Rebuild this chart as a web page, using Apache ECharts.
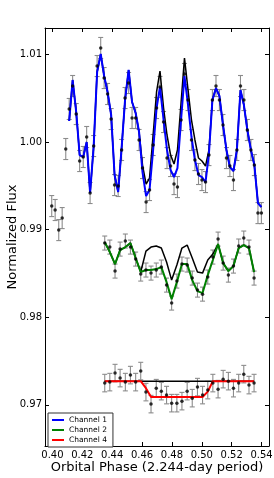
<!DOCTYPE html>
<html><head><meta charset="utf-8">
<script src="https://cdn.jsdelivr.net/npm/echarts@6/dist/echarts.min.js"></script>
<style>html,body{margin:0;padding:0;background:#fff}#c{width:274px;height:478px}</style>
</head><body><div id="c"></div>
<script>
const xTicks = [0.40, 0.42, 0.44, 0.46, 0.48, 0.50, 0.52, 0.54];
const yTicks = [0.97, 0.98, 0.99, 1.00, 1.01];

// Channel 1
const phase1 = [0.3995,0.4018,0.4042,0.4065,0.4089,0.4112,0.4135,0.4159,0.4182,0.4206,0.4229,0.4252,0.4276,0.4299,0.4323,0.4346,0.4369,0.4393,0.4416,0.4440,0.4463,0.4486,0.4510,0.4533,0.4557,0.4580,0.4603,0.4627,0.4650,0.4674,0.4697,0.4720,0.4744,0.4767,0.4791,0.4814,0.4837,0.4861,0.4884,0.4908,0.4931,0.4954,0.4978,0.5001,0.5025,0.5048,0.5071,0.5095,0.5118,0.5142,0.5165,0.5188,0.5212,0.5235,0.5259,0.5282,0.5305,0.5329,0.5352,0.5376,0.5399];
const flux1 = [0.99268,0.99223,0.98994,0.99131,0.99919,1.00376,1.00638,1.00318,0.99782,0.99828,1.00056,0.99417,0.99953,1.00866,1.01072,1.00729,1.00547,1.00261,0.99508,0.99497,0.99908,1.00501,1.00672,1.00273,1.00273,1.00022,0.99702,0.99314,0.99451,0.99965,1.00387,1.00627,1.00227,0.99816,0.99725,0.99519,0.99485,1.00250,1.00775,1.00478,1.00022,0.99793,0.99634,0.99565,0.99542,0.99850,1.00478,1.00638,1.00478,1.00193,0.99816,0.99725,0.99565,0.99908,1.00638,1.00478,1.00136,0.99908,0.99736,0.99188,0.99188];
const model1 = [null,null,null,null,null,1.00239,1.00707,1.00341,0.99850,0.99828,0.99999,0.99417,0.99953,1.00798,1.01003,1.00752,1.00570,1.00307,0.99622,0.99428,0.99930,1.00478,1.00821,1.00455,1.00330,1.00113,0.99656,0.99382,0.99451,0.99908,1.00387,1.00627,1.00250,0.99908,0.99679,0.99599,0.99702,1.00250,1.00752,1.00421,1.00056,0.99793,0.99622,0.99599,0.99542,0.99873,1.00478,1.00615,1.00524,1.00193,0.99908,0.99713,0.99668,0.99908,1.00592,1.00421,1.00136,0.99908,0.99736,0.99302,0.99257];
const noEcl1 = [null,null,null,null,null,1.00239,1.00707,1.00341,0.99850,0.99828,0.99999,0.99417,0.99953,1.00798,1.01003,1.00752,1.00570,1.00307,0.99622,0.99428,0.99930,1.00478,1.00821,1.00455,1.00330,1.00113,0.99736,0.99519,0.99588,1.00079,1.00570,1.00809,1.00387,1.00079,0.99850,0.99748,0.99908,1.00444,1.00958,1.00592,1.00250,1.00022,0.99816,0.99782,0.99725,0.99908,1.00478,1.00615,1.00524,1.00193,0.99908,0.99713,0.99668,0.99908,1.00592,1.00421,1.00136,0.99908,0.99736,0.99302,0.99257];
const err1 = 0.0012;

// Channels 2 and 4 share phases
const phase24 = [0.4350,0.4384,0.4419,0.4453,0.4488,0.4522,0.4557,0.4591,0.4626,0.4660,0.4695,0.4729,0.4764,0.4798,0.4833,0.4867,0.4902,0.4936,0.4971,0.5005,0.5040,0.5074,0.5109,0.5143,0.5178,0.5212,0.5247,0.5281,0.5316,0.5350];
const flux2 = [0.98846,0.98800,0.98526,0.98777,0.98869,0.98800,0.98663,0.98492,0.98538,0.98503,0.98538,0.98572,0.98366,0.98161,0.98412,0.98606,0.98595,0.98446,0.98309,0.98263,0.98458,0.98686,0.98891,0.98617,0.98480,0.98583,0.98812,0.98903,0.98800,0.98446];
const model2 = [0.98857,0.98743,0.98606,0.98766,0.98800,0.98846,0.98675,0.98515,0.98538,0.98538,0.98549,0.98572,0.98400,0.98206,0.98400,0.98606,0.98606,0.98423,0.98298,0.98275,0.98480,0.98652,0.98834,0.98617,0.98526,0.98583,0.98789,0.98823,0.98789,0.98515];
const noEcl2 = [0.98857,0.98743,0.98606,0.98766,0.98800,0.98846,0.98675,0.98515,0.98754,0.98800,0.98812,0.98789,0.98629,0.98423,0.98595,0.98789,0.98823,0.98675,0.98515,0.98503,0.98652,0.98720,0.98834,0.98617,0.98526,0.98583,0.98789,0.98823,0.98789,0.98515];
const err2 = 0.0008;

const flux4 = [0.97248,0.97259,0.97362,0.97305,0.97259,0.97339,0.97259,0.97385,0.97145,0.97008,0.97190,0.97156,0.97111,0.97019,0.97019,0.97042,0.97156,0.97076,0.97202,0.97111,0.97168,0.97248,0.97179,0.97293,0.97270,0.97190,0.97248,0.97350,0.97225,0.97248];
const model4 = [0.9727,0.9727,0.9727,0.9727,0.9727,0.9727,0.9727,0.9727,0.9719,0.9709,0.9709,0.9709,0.9709,0.9709,0.9709,0.9709,0.9709,0.9709,0.9709,0.9709,0.9715,0.9727,0.9727,0.9727,0.9727,0.9727,0.9727,0.9727,0.9727,0.9727];
const noEcl4 = [0.9727,0.9727,0.9727,0.9727,0.9727,0.9727,0.9727,0.9727,0.9727,0.9727,0.9727,0.9727,0.9727,0.9727,0.9727,0.9727,0.9727,0.9727,0.9727,0.9727,0.9727,0.9727,0.9727,0.9727,0.9727,0.9727,0.9727,0.9727,0.9727,0.9727];
const err4 = 0.0010;

const FONT = 'DejaVu Sans';
function pairs(xs, ys) { const out = []; xs.forEach((x, i) => { if (ys[i] != null) out.push([x, ys[i]]); }); return out; }
function errData(xs, ys, e) { return xs.map((x, i) => [x, ys[i] - e, ys[i] + e]); }

function errSeries(data) {
  return {
    type: 'custom', z: 1, silent: true, data: data,
    encode: { x: 0, y: [1, 2] },
    renderItem: function (params, api) {
      const x = api.value(0);
      const lo = api.coord([x, api.value(1)]);
      const hi = api.coord([x, api.value(2)]);
      const w = 2.5;
      const st = { stroke: '#8c8c8c', lineWidth: 1.1 };
      return { type: 'group', children: [
        { type: 'line', shape: { x1: lo[0], y1: lo[1], x2: hi[0], y2: hi[1] }, style: st },
        { type: 'line', shape: { x1: lo[0] - w, y1: lo[1], x2: lo[0] + w, y2: lo[1] }, style: st },
        { type: 'line', shape: { x1: hi[0] - w, y1: hi[1], x2: hi[0] + w, y2: hi[1] }, style: st }
      ]};
    }
  };
}
function lineSeries(name, data, color, width, z) {
  return { name: name, type: 'line', data: data, showSymbol: false, symbol: 'none', z: z,
    lineStyle: { color: color, width: width }, itemStyle: { color: color }, animation: false, silent: true };
}
function dotSeries(data) {
  return { type: 'scatter', data: data, symbol: 'circle', symbolSize: 3.5, z: 5,
    itemStyle: { color: '#000' }, silent: true };
}

const chart = echarts.init(document.getElementById('c'), null, { renderer: 'canvas' });
const xCommon = { type: 'value', min: 0.395, max: 0.545, splitLine: { show: false },
  axisLine: { lineStyle: { color: '#000', width: 1 } } };
const yCommon = { type: 'value', min: 0.9653, max: 1.013, splitLine: { show: false },
  axisLine: { lineStyle: { color: '#000', width: 1 } } };

chart.setOption({
  animation: false,
  backgroundColor: '#fff',
  grid: { left: 45, top: 28, right: 5, bottom: 32, containLabel: false, outerBoundsMode: 'none' },
  xAxis: [
    Object.assign({}, xCommon, { position: 'bottom',
      name: 'Orbital Phase (2.244-day period)', nameLocation: 'middle', nameGap: 15, nameMoveOverlap: false,
      nameTextStyle: { fontFamily: FONT, fontSize: 13, color: '#000' },
      axisTick: { inside: true, length: 4, customValues: xTicks, lineStyle: { color: '#000' } },
      axisLabel: { customValues: xTicks, margin: 4, fontFamily: FONT, fontSize: 10, color: '#000',
        formatter: v => v.toFixed(2) } }),
    Object.assign({}, xCommon, { position: 'top',
      axisTick: { inside: true, length: 4, customValues: xTicks, lineStyle: { color: '#000' } },
      axisLabel: { show: false } })
  ],
  yAxis: [
    Object.assign({}, yCommon, { position: 'left',
      name: 'Normalized Flux', nameLocation: 'middle', nameGap: 26, nameMoveOverlap: false,
      nameTextStyle: { fontFamily: FONT, fontSize: 13, color: '#000' },
      axisTick: { inside: true, length: 4, customValues: yTicks, lineStyle: { color: '#000' } },
      axisLabel: { customValues: yTicks, margin: 3, fontFamily: FONT, fontSize: 10, color: '#000',
        formatter: v => v.toFixed(2) } }),
    Object.assign({}, yCommon, { position: 'right',
      axisTick: { inside: true, length: 4, customValues: yTicks, lineStyle: { color: '#000' } },
      axisLabel: { show: false } })
  ],
  legend: {
    orient: 'vertical', left: 48, top: 413,
    backgroundColor: '#fff', borderColor: '#333', borderWidth: 1, borderRadius: 0,
    padding: [3, 6, 3, 4], itemGap: 2, itemWidth: 12, itemHeight: 2,
    textStyle: { fontFamily: FONT, fontSize: 7.5, color: '#000' },
    data: [ { name: 'Channel 1', icon: 'rect' }, { name: 'Channel 2', icon: 'rect' }, { name: 'Channel 4', icon: 'rect' } ]
  },
  series: [
    errSeries(errData(phase1, flux1, err1)),
    errSeries(errData(phase24, flux2, err2)),
    errSeries(errData(phase24, flux4, err4)),
    lineSeries('nomodel1', pairs(phase1, noEcl1), '#000', 1.5, 2),
    lineSeries('nomodel2', pairs(phase24, noEcl2), '#000', 1.5, 2),
    lineSeries('nomodel4', pairs(phase24, noEcl4), '#000', 1.5, 2),
    lineSeries('Channel 1', pairs(phase1, model1), '#0000ff', 2, 3),
    lineSeries('Channel 2', pairs(phase24, model2), '#008000', 2, 3),
    lineSeries('Channel 4', pairs(phase24, model4), '#ff0000', 2, 3),
    dotSeries(pairs(phase1, flux1)),
    dotSeries(pairs(phase24, flux2)),
    dotSeries(pairs(phase24, flux4))
  ]
});
</script>
</body></html>
